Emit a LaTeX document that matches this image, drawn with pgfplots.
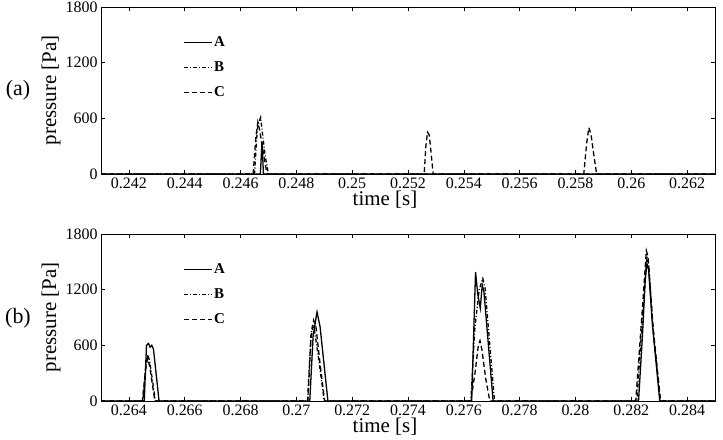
\documentclass[border=0pt]{standalone}
\usepackage{fontspec}
\setmainfont{Liberation Serif}
\usepackage{pgfplots}
\pgfplotsset{compat=1.18}
\begin{document}
\begin{tikzpicture}
\pgfplotsset{
  panel/.style={
    scale only axis, width=614bp, height=167bp,
    ymin=0, ymax=1800, ytick={0,600,1200,1800},
    scaled x ticks=false, scaled y ticks=false,
    /pgf/number format/set thousands separator={},
    xticklabel style={/pgf/number format/fixed,/pgf/number format/precision=3},
    /pgf/number format/assume math mode=true,
    tick label style={font=\fontsize{16}{16}\selectfont},
    tick align=inside, major tick length=4bp,
    axis line style={line width=0.8bp},
    every tick/.style={black, line width=0.6bp},
    xlabel={time [s]}, ylabel={pressure [Pa]},
    label style={font=\fontsize{21}{21}\selectfont},
    xlabel style={at={(axis description cs:0.4625,-0.156)}, anchor=center},
    ylabel style={at={(axis description cs:-0.0814,0.5)}, anchor=center},
    legend cell align=left,
    legend style={draw=none, fill=none, font=\fontsize{15}{15}\selectfont\bfseries,
      at={(axis description cs:0.1336,0.83)}, anchor=north west, inner sep=0pt,
      row sep=10.5bp, nodes={inner sep=1.5bp}},
    legend image code/.code={\draw[#1] (0bp,0bp) -- (28bp,0bp);},
    every axis plot/.append style={line width=1.3bp, black},
  },
  sA/.style={solid},
  sB/.style={dash pattern=on 4bp off 2bp on 1bp off 2bp},
  sC/.style={dash pattern=on 5bp off 3bp},
}
\path[use as bounding box] (0,0) rectangle (723bp,440bp);
\begin{axis}[panel, at={(101bp,266bp)}, anchor=south west,
  xmin=0.241, xmax=0.263,
  xtick={0.242,0.244,0.246,0.248,0.25,0.252,0.254,0.256,0.258,0.26,0.262}]
\addplot[sA] coordinates {(0.241,0)(0.24671,0)(0.24677,350)(0.24682,0)(0.263,0)};
\addplot[sB] coordinates {(0.241,0)(0.24650,0)(0.24660,480)(0.24666,560)(0.24672,610)(0.24680,400)(0.24688,200)(0.24700,0)(0.263,0)};
\addplot[sC] coordinates {(0.241,0)(0.24645,0)(0.24655,400)(0.24662,560)(0.24668,480)(0.24676,330)(0.24686,150)(0.24695,0)
 (0.25258,0)(0.25264,300)(0.2527,450)(0.25276,420)(0.25282,250)(0.2529,0)
 (0.2583,0)(0.2584,330)(0.25848,500)(0.25856,420)(0.25866,200)(0.25876,0)(0.263,0)};
\legend{A,B,C}
\end{axis}
\begin{axis}[panel, at={(101bp,39bp)}, anchor=south west,
  xmin=0.263, xmax=0.285,
  xtick={0.264,0.266,0.268,0.27,0.272,0.274,0.276,0.278,0.28,0.282,0.284}]
\addplot[sA] coordinates {(0.263,0)(0.26455,0)(0.26463,600)(0.26470,620)(0.26476,580)(0.26482,600)(0.26488,560)(0.26508,0)
 (0.27048,0)(0.27060,700)(0.27074,960)(0.27085,800)(0.27113,0)
 (0.27628,0)(0.27642,1390)(0.27650,1150)(0.27659,1000)(0.27666,1250)(0.27672,1180)(0.27705,0)
 (0.28226,0)(0.2824,700)(0.2825,1300)(0.28256,1480)(0.28262,1420)(0.28275,850)(0.28302,0)(0.285,0)};
\addplot[sB] coordinates {(0.263,0)(0.26450,0)(0.26462,420)(0.26468,500)(0.26475,420)(0.26495,0)
 (0.27040,0)(0.27052,700)(0.27058,820)(0.27065,760)(0.27080,450)(0.27100,0)
 (0.27625,0)(0.27640,800)(0.27655,1200)(0.27668,1320)(0.27676,1220)(0.27710,0)
 (0.28220,0)(0.28240,900)(0.28256,1560)(0.28262,1480)(0.2828,700)(0.28304,0)(0.285,0)};
\addplot[sC] coordinates {(0.263,0)(0.26448,0)(0.26460,350)(0.26467,460)(0.26474,380)(0.26493,0)
 (0.27041,0)(0.27052,650)(0.27062,870)(0.2707,800)(0.27085,400)(0.27101,0)
 (0.27625,0)(0.2764,300)(0.27652,600)(0.27658,650)(0.27665,550)(0.27678,250)(0.27693,0)
 (0.28216,0)(0.2824,1000)(0.28254,1620)(0.2826,1560)(0.28278,800)(0.28305,0)(0.285,0)};
\legend{A,B,C}
\end{axis}
\node[font=\fontsize{22}{22}\selectfont] at (18bp,350bp) {(a)};
\node[font=\fontsize{22}{22}\selectfont] at (18bp,122bp) {(b)};
\end{tikzpicture}
\end{document}
